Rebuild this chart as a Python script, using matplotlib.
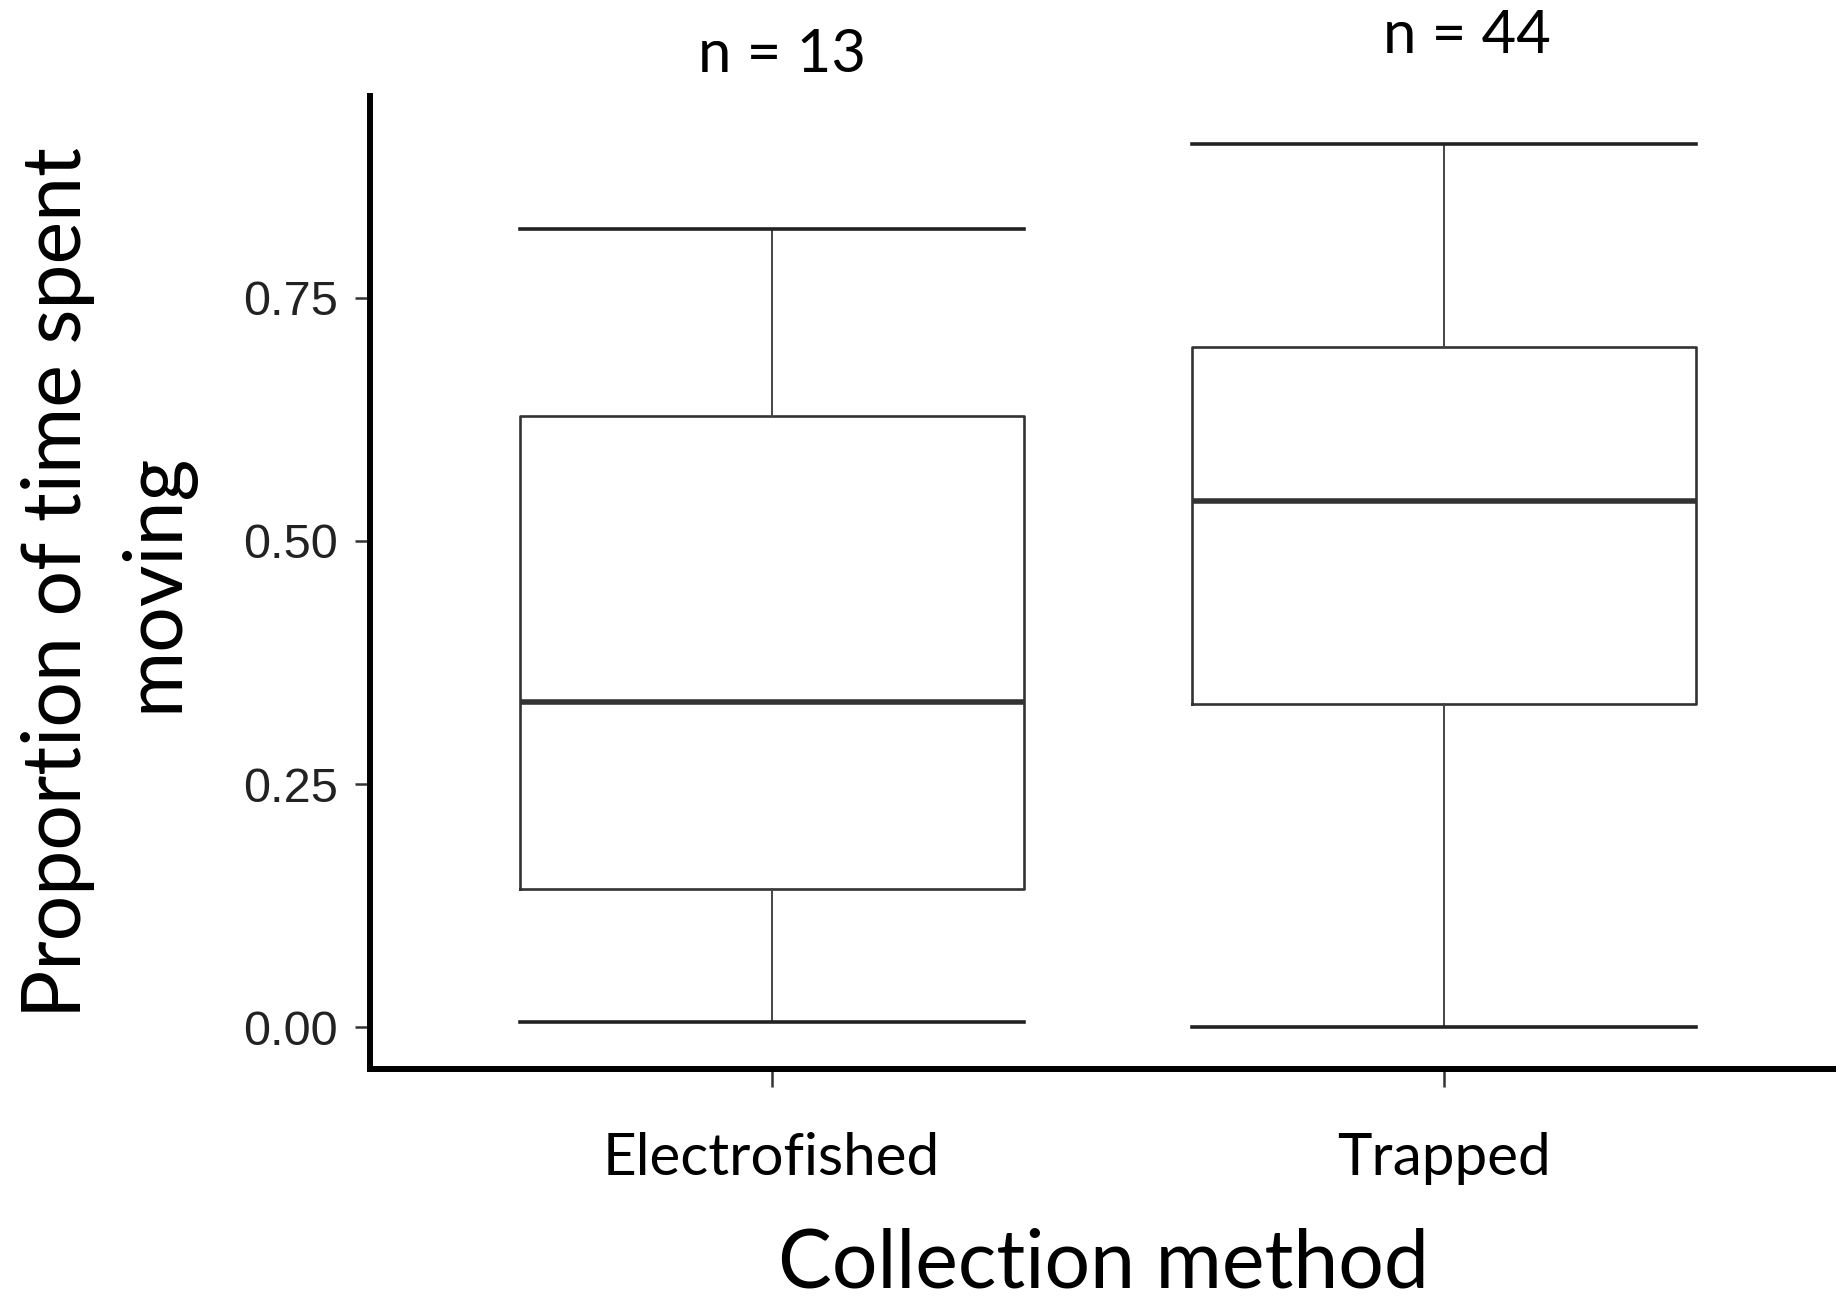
import matplotlib
matplotlib.use("Agg")
import matplotlib.pyplot as plt
import matplotlib.transforms as mtransforms

# values
methods = ["Electrofished", "Trapped"]
n_fish = [13, 44]
whisk_lo = [0.005, 0.0]
q1 = [0.142, 0.332]
medians = [0.334, 0.541]
q3 = [0.628, 0.699]
whisk_hi = [0.821, 0.908]

title_font = "Lato"
tick_font = "Liberation Sans"

fig = plt.figure(figsize=(18.36, 13.01), dpi=100)
ax = fig.add_axes([0.2015, 0.1783, 0.7985, 0.7477])

stats = []
for i, m in enumerate(methods):
    stats.append({
        "label": m,
        "whislo": whisk_lo[i],
        "q1": q1[i],
        "med": medians[i],
        "q3": q3[i],
        "whishi": whisk_hi[i],
        "fliers": [],
    })

positions = [1, 2]
ax.bxp(stats, positions=positions, widths=0.75, capwidths=0.75,
       showfliers=False,
       boxprops=dict(color="#333333", linewidth=1.9),
       medianprops=dict(color="#333333", linewidth=4.0),
       whiskerprops=dict(color="#444444", linewidth=1.4),
       capprops=dict(color="#222222", linewidth=2.6))

ax.set_xlim(0.402, 2.584)
ax.set_ylim(-0.043, 0.957)
ax.set_yticks([0.0, 0.25, 0.5, 0.75])
ax.set_yticklabels(["0.00", "0.25", "0.50", "0.75"], fontsize=35,
                   fontfamily=tick_font, color="#222222")
ax.set_xticks(positions)
ax.set_xticklabels(methods, fontsize=42, fontfamily=title_font)
ax.tick_params(axis="y", length=11, width=1.8, color="#333333", pad=12)
ax.tick_params(axis="x", length=13, width=1.8, color="#333333", pad=32)

for side in ["top", "right"]:
    ax.spines[side].set_visible(False)
for side in ["left", "bottom"]:
    ax.spines[side].set_linewidth(4.3)
    ax.spines[side].set_color("black")

ax.set_xlabel("Collection method", fontsize=58, fontfamily=title_font, labelpad=31)
ax.set_ylabel("Proportion of time spent\nmoving", fontsize=58,
              fontfamily=title_font, labelpad=36, linespacing=1.37)

# sample sizes above the boxes
trans = mtransforms.blended_transform_factory(ax.transData, fig.transFigure)
n_x = [1.016, 2.034]
n_y = [0.958, 0.972]
for i, n in enumerate(n_fish):
    ax.text(n_x[i], n_y[i], f"n = {n}", transform=trans, ha="center",
            va="center", fontsize=43, fontfamily=title_font, clip_on=False)

fig.savefig("out.png", dpi=100)
